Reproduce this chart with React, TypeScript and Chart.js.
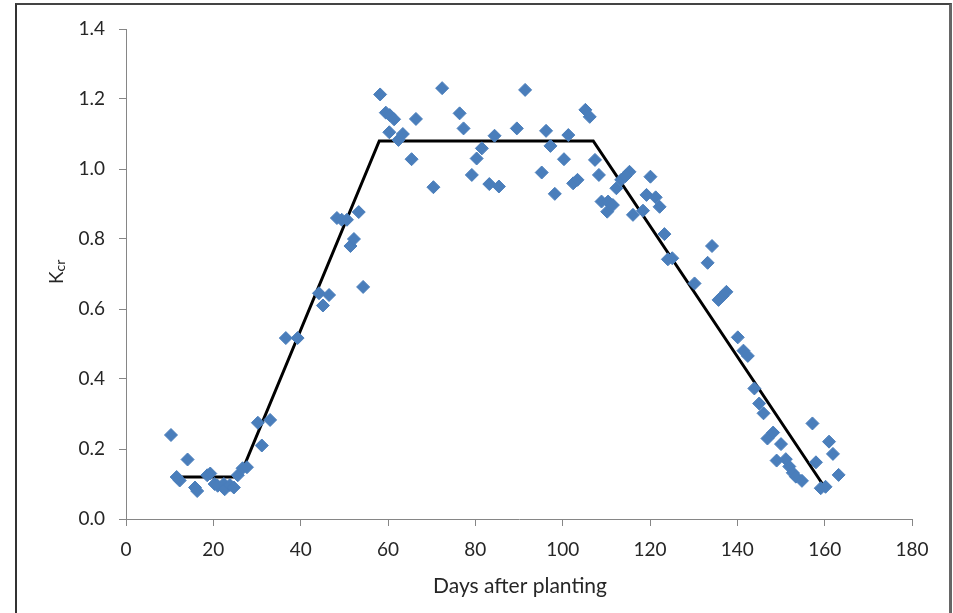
import React, { useEffect, useRef } from "react";
import { Chart, registerables } from "chart.js";

Chart.register(...registerables);

// Observed K_cr values (days after planting, K_cr)
const observedDays: number[] = [
  10.3, 11.6, 12.3, 14.1, 15.8, 16.3, 18.6, 19.3, 20.3, 21.0,
  22.4, 22.6, 23.8, 24.7, 25.6, 26.7, 27.7, 30.2, 31.1, 33.0,
  36.6, 39.3, 44.2, 45.1, 46.5, 48.3, 49.4, 50.6, 51.4, 52.2,
  53.3, 54.3, 58.2, 59.5, 60.4, 61.4, 60.3, 63.4, 62.4, 66.4,
  65.4, 70.4, 72.4, 76.4, 77.3, 81.5, 80.3, 79.2, 84.4, 83.2,
  85.4, 89.5, 91.4, 96.2, 95.2, 97.2, 101.3, 100.3, 98.2, 102.4,
  103.4, 105.2, 106.2, 107.4, 108.3, 108.9, 110.4, 110.2, 111.5, 112.3,
  113.4, 115.3, 114.4, 116.1, 118.4, 120.1, 119.2, 121.3, 122.2, 123.3,
  124.1, 125.1, 130.2, 134.2, 133.2, 135.7, 136.6, 137.5, 140.1, 141.4,
  142.4, 143.9, 145.0, 146.0, 146.9, 148.2, 150.0, 149.0, 151.1, 151.9,
  152.7, 153.4, 154.8, 157.2, 158.0, 159.1, 160.2, 161.0, 161.9, 163.2,
];
const observedKcr: number[] = [
  0.24, 0.12, 0.11, 0.17, 0.09, 0.08, 0.125, 0.13, 0.10, 0.095,
  0.10, 0.085, 0.097, 0.09, 0.125, 0.145, 0.148, 0.275, 0.21, 0.283,
  0.517, 0.517, 0.645, 0.61, 0.64, 0.86, 0.855, 0.855, 0.78, 0.80,
  0.877, 0.663, 1.213, 1.161, 1.154, 1.142, 1.105, 1.10, 1.083, 1.143,
  1.028, 0.948, 1.231, 1.159, 1.116, 1.059, 1.03, 0.983, 1.095, 0.957,
  0.95, 1.116, 1.226, 1.109, 0.99, 1.066, 1.097, 1.028, 0.929, 0.959,
  0.969, 1.169, 1.149, 1.026, 0.983, 0.907, 0.907, 0.878, 0.897, 0.945,
  0.969, 0.992, 0.98, 0.869, 0.881, 0.978, 0.926, 0.919, 0.892, 0.814,
  0.742, 0.745, 0.673, 0.78, 0.732, 0.626, 0.637, 0.649, 0.519, 0.481,
  0.466, 0.373, 0.33, 0.302, 0.23, 0.247, 0.214, 0.167, 0.171, 0.15,
  0.132, 0.121, 0.109, 0.273, 0.162, 0.088, 0.092, 0.221, 0.186, 0.126,
];

// Crop coefficient curve (piecewise linear)
const curveDays: number[] = [12, 26, 58, 107, 159.5];
const curveKcr: number[] = [0.12, 0.12, 1.08, 1.08, 0.1];

const xTicks: number[] = [0, 20, 40, 60, 80, 100, 120, 140, 160, 180];
const yTicks: number[] = [0, 0.2, 0.4, 0.6, 0.8, 1.0, 1.2, 1.4];

const xTitle = "Days after planting";
const yTitleMain = "K";
const yTitleSub = "cr";

const FONT = "Lato";
const TEXT = "#262626";
const AXIS = "#868686";

export default function App() {
  const ref = useRef<HTMLCanvasElement | null>(null);

  useEffect(() => {
    if (!ref.current) return;
    const titles = {
      id: "titles",
      afterDraw(chart: any) {
        const ctx = chart.ctx as CanvasRenderingContext2D;
        const area = chart.chartArea;
        ctx.save();
        ctx.fillStyle = TEXT;
        ctx.font = `21px ${FONT}`;
        ctx.textAlign = "center";
        ctx.textBaseline = "alphabetic";
        ctx.fillText(xTitle, (area.left + area.right) / 2 + 1, 593);
        ctx.restore();

        ctx.save();
        ctx.fillStyle = TEXT;
        ctx.translate(63, 284);
        ctx.rotate(-Math.PI / 2);
        ctx.textAlign = "left";
        ctx.textBaseline = "alphabetic";
        ctx.font = `19px ${FONT}`;
        ctx.fillText(yTitleMain, 0, 0);
        const w = ctx.measureText(yTitleMain).width;
        ctx.font = `14px ${FONT}`;
        ctx.fillText(yTitleSub, w, 2);
        ctx.restore();
      },
    };

    const chart = new Chart(ref.current, {
      type: "scatter",
      data: {
        datasets: [
          {
            label: "Observed",
            data: observedDays.map((d, i) => ({ x: d, y: observedKcr[i] })),
            pointStyle: "rectRot",
            pointRadius: 6.5,
            pointBackgroundColor: "#4A7EBB",
            pointBorderColor: "#4A7EBB",
            pointBorderWidth: 1,
            showLine: false,
          },
          {
            label: "Kcr curve",
            data: curveDays.map((d, i) => ({ x: d, y: curveKcr[i] })),
            showLine: true,
            borderColor: "#000000",
            borderWidth: 3,
            pointRadius: 0,
            fill: false,
          },
        ],
      },
      options: {
        responsive: false,
        animation: false,
        layout: { padding: { left: 0, top: 29, right: 41, bottom: 0 } },
        plugins: {
          legend: { display: false },
          tooltip: { enabled: false },
          title: { display: false },
        },
        scales: {
          x: {
            type: "linear",
            min: 0,
            max: 180,
            afterFit: (s: any) => {
              s.height = 94;
            },
            afterBuildTicks: (s: any) => {
              s.ticks = xTicks.map((v) => ({ value: v }));
            },
            ticks: {
              color: TEXT,
              font: { family: FONT, size: 19 },
              padding: 12,
              maxRotation: 0,
              callback: (v: any) => String(v),
            },
            grid: {
              display: true,
              drawOnChartArea: false,
              drawTicks: true,
              tickLength: 7,
              color: AXIS,
            },
            border: { display: true, color: AXIS, width: 1 },
          },
          y: {
            type: "linear",
            min: 0,
            max: 1.4,
            afterFit: (s: any) => {
              s.width = 126;
            },
            afterBuildTicks: (s: any) => {
              s.ticks = yTicks.map((v) => ({ value: v }));
            },
            ticks: {
              color: TEXT,
              font: { family: FONT, size: 19 },
              padding: 14,
              callback: (v: any) => Number(v).toFixed(1),
            },
            grid: {
              display: true,
              drawOnChartArea: false,
              drawTicks: true,
              tickLength: 7,
              color: AXIS,
            },
            border: { display: true, color: AXIS, width: 1 },
          },
        },
      },
      plugins: [titles],
    });
    return () => chart.destroy();
  }, []);

  return (
    <div style={{ position: "absolute", left: 0, top: 0, width: 953, height: 613, background: "#fff", overflow: "hidden" }}>
      <div
        style={{
          position: "absolute",
          left: 15,
          top: 3,
          width: 937,
          height: 640,
          boxSizing: "border-box",
          borderLeft: "2px solid #333",
          borderTop: "2px solid #444",
          borderRight: "3px solid #666",
        }}
      />
      <canvas ref={ref} width={953} height={613} style={{ position: "absolute", left: 0, top: 0 }} />
    </div>
  );
}
